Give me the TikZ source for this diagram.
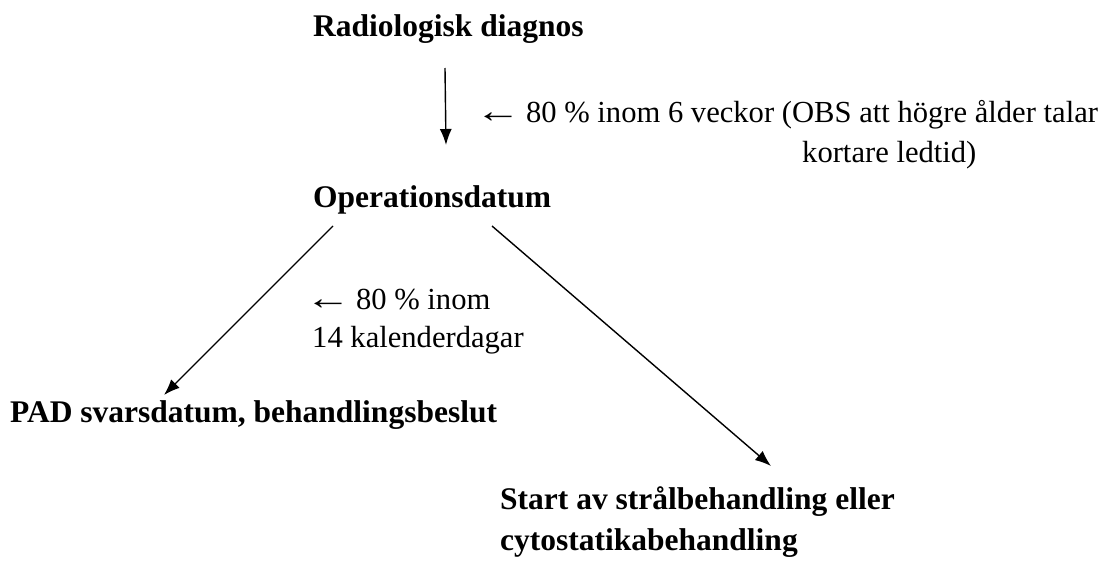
\documentclass[tikz,border=0pt]{standalone}
\usepackage{fontspec}
\setmainfont{Liberation Serif}
\usetikzlibrary{arrows.meta}
\newcommand{\larr}{\scalebox{1.5}[1.1]{←}\hspace{5pt}}
\begin{document}
\begin{tikzpicture}[x=1pt,y=-1pt,
  lbl/.style={anchor=west,inner sep=0pt,font=\fontsize{30.6}{36}\selectfont},
  head/.style={anchor=west,inner sep=0pt,font=\fontsize{31.5}{36}\selectfont\bfseries},
  arr/.style={line width=1.4pt,-{Latex[length=16pt,width=12pt]}}]
\useasboundingbox (0,0) rectangle (1104,562);
\node[head] (rad) at (313,29) {Radiologisk diagnos};
\node[head] (op) at (313,200) {Operationsdatum};
\node[head] (pad) at (10,415) {PAD svarsdatum, behandlingsbeslut};
\node[head] (start1) at (500,502) {Start av strålbehandling eller};
\node[head] (start2) at (500,543) {cytostatikabehandling};
\node[lbl] (l1) at (475,115) {\larr80 \% inom 6 veckor (OBS att högre ålder talar};
\node[lbl] (l1b) at (802,155) {kortare ledtid)};
\node[lbl] (l2) at (305,300) {\larr80 \% inom};
\node[lbl] (l2b) at (312,340) {14 kalenderdagar};
\coordinate (a1s) at (445,68);
\coordinate (a1e) at (446,145);
\coordinate (a2s) at (333,226);
\coordinate (a2e) at (164,395);
\coordinate (a3s) at (492,226);
\coordinate (a3e) at (771,466);
\draw[arr] (a1s) -- (a1e);
\draw[arr] (a2s) -- (a2e);
\draw[arr] (a3s) -- (a3e);
\end{tikzpicture}
\end{document}
